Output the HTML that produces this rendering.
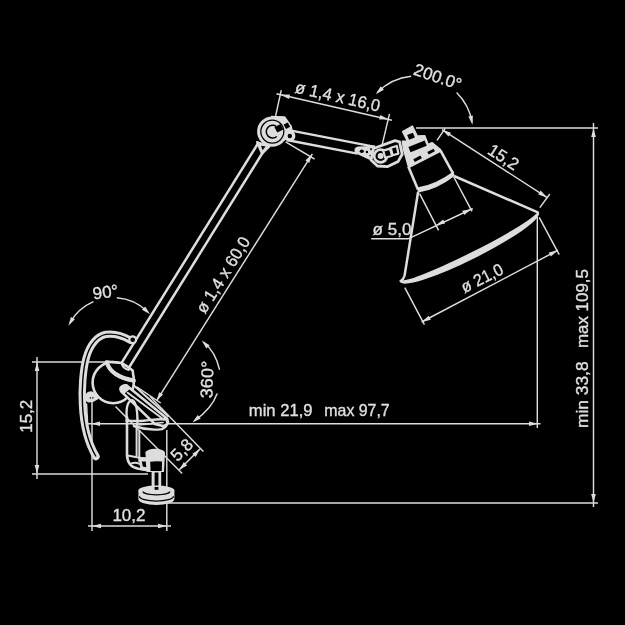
<!DOCTYPE html>
<html><head><meta charset="utf-8">
<style>
html,body{margin:0;padding:0;background:#000;width:625px;height:625px;overflow:hidden}
svg{display:block;opacity:0.999;will-change:transform}
text{font-family:"Liberation Sans",sans-serif;fill:#e0e0e0;stroke:#e0e0e0;stroke-width:0.35px}
</style></head><body>
<svg width="625" height="625" viewBox="0 0 625 625">
<rect width="625" height="625" fill="#000"/>
<line x1="593.50" y1="123.00" x2="593.50" y2="507.00" stroke="#dedede" stroke-width="1.45"/>
<path d="M593.50 128.00 L595.80 137.00 L591.20 137.00Z" fill="#dedede"/>
<path d="M593.50 503.00 L591.20 494.00 L595.80 494.00Z" fill="#dedede"/>
<line x1="416.00" y1="128.00" x2="598.00" y2="128.00" stroke="#dedede" stroke-width="1.45"/>
<line x1="167.00" y1="503.00" x2="598.00" y2="503.00" stroke="#dedede" stroke-width="1.45"/>
<line x1="88.00" y1="423.80" x2="540.50" y2="423.80" stroke="#dedede" stroke-width="1.45"/>
<path d="M538.00 423.80 L529.00 426.10 L529.00 421.50Z" fill="#dedede"/>
<path d="M91.00 423.80 L100.00 421.50 L100.00 426.10Z" fill="#dedede"/>
<line x1="537.30" y1="217.00" x2="537.30" y2="428.00" stroke="#dedede" stroke-width="1.45"/>
<line x1="37.00" y1="357.00" x2="37.00" y2="479.00" stroke="#dedede" stroke-width="1.45"/>
<path d="M37.00 362.00 L39.30 371.00 L34.70 371.00Z" fill="#dedede"/>
<path d="M37.00 474.00 L34.70 465.00 L39.30 465.00Z" fill="#dedede"/>
<line x1="32.00" y1="362.00" x2="112.00" y2="362.00" stroke="#dedede" stroke-width="1.45"/>
<line x1="32.00" y1="474.00" x2="148.00" y2="474.00" stroke="#dedede" stroke-width="1.45"/>
<line x1="88.00" y1="526.00" x2="171.00" y2="526.00" stroke="#dedede" stroke-width="1.45"/>
<path d="M92.00 526.00 L101.00 523.70 L101.00 528.30Z" fill="#dedede"/>
<path d="M167.00 526.00 L158.00 528.30 L158.00 523.70Z" fill="#dedede"/>
<line x1="92.00" y1="398.00" x2="92.00" y2="531.00" stroke="#dedede" stroke-width="1.45"/>
<line x1="166.80" y1="430.00" x2="166.80" y2="531.00" stroke="#dedede" stroke-width="1.45"/>
<text x="0" y="0" transform="translate(248.80,415.80) rotate(0)" textLength="63.7" lengthAdjust="spacingAndGlyphs" font-size="17">min 21,9</text>
<text x="0" y="0" transform="translate(324.30,415.80) rotate(0)" textLength="65.4" lengthAdjust="spacingAndGlyphs" font-size="17">max 97,7</text>
<text x="0" y="0" transform="translate(587.70,428.00) rotate(-90)" textLength="66.6" lengthAdjust="spacingAndGlyphs" font-size="17">min 33,8</text>
<text x="0" y="0" transform="translate(587.70,348.00) rotate(-90)" textLength="78.9" lengthAdjust="spacingAndGlyphs" font-size="17">max 109,5</text>
<text x="0" y="0" transform="translate(32.20,432.80) rotate(-90)" font-size="17">15,2</text>
<text x="0" y="0" transform="translate(112.40,521.20) rotate(0)" font-size="17">10,2</text>
<line x1="265.84" y1="147.50" x2="127.78" y2="369.50" stroke="#dedede" stroke-width="2.5"/>
<line x1="257.97" y1="143.50" x2="121.58" y2="362.80" stroke="#dedede" stroke-width="2.5"/>
<line x1="288.66" y1="130.13" x2="375.05" y2="146.86" stroke="#dedede" stroke-width="2.5"/>
<line x1="286.76" y1="139.95" x2="357.44" y2="153.64" stroke="#dedede" stroke-width="2.5"/>
<circle cx="272.3" cy="131.6" r="15.2" fill="#dedede"/>
<path d="M271 115.8 L285 116.2 L291.8 126 L293.5 134 L284 141 L272 131.6Z" fill="#dedede"/>
<circle cx="272.3" cy="131.6" r="11.5" fill="none" stroke="#000" stroke-width="1.3"/>
<path d="M276.5 126.5 A6.4 6.4 0 1 0 276.8 136.5" fill="none" stroke="#000" stroke-width="1.5"/>
<path d="M274.5 127.3 l6 -3.2 l2.8 5.3 l-6 3.2z" fill="#000"/>
<path d="M283.6 124.6 l4.2 -2.2 l2.4 4.4 l-4.2 2.2z" fill="#000"/>
<circle cx="289.8" cy="136" r="5.6" fill="#dedede"/>
<circle cx="289.8" cy="136" r="2.2" fill="#000"/>
<path d="M257 142 L269.4 146.6 L262 153.8Z" fill="#dedede" stroke="#dedede" stroke-width="2" stroke-linejoin="round"/>
<path d="M261.2 145.8 L265.6 146.6 L262.4 150.2Z" fill="#000"/>
<path d="M358 146.4 Q353.6 147.5 354.6 151.6 Q355.5 154 358 154.4 L368.8 159.6 L375 161 L375 145.4 L365.6 146.2Z" fill="#dedede"/>
<ellipse cx="361.8" cy="151.3" rx="2.1" ry="1.7" fill="#000"/>
<circle cx="366.9" cy="152" r="1.2" fill="#000"/>
<path d="M369.8 148.2 L372.6 148.6 L371 151Z" fill="#000"/>
<path d="M369 155.2 L371.8 154.4 L371.2 157.4Z" fill="#000"/>
<path d="M373.5 148.5 L395 140.6 L399.5 141.8 L402.2 154.2 L398.2 161.4 L387.8 166.6 L377.4 166 L371 160Z" fill="#000" stroke="#dedede" stroke-width="2.8" stroke-linejoin="round"/>
<circle cx="380.6" cy="156" r="6.4" fill="#000" stroke="#dedede" stroke-width="2.6"/>
<circle cx="380.6" cy="156" r="3.0" fill="#dedede"/>
<path d="M383.2 150.6 L390 148.6 L392 155.8 L385.2 157.8Z" fill="#000" stroke="#dedede" stroke-width="2.2" stroke-linejoin="round"/>
<path d="M390.8 147.8 L396.8 146 L398.4 153.6 L392.6 155.2Z" fill="#000" stroke="#dedede" stroke-width="2.2" stroke-linejoin="round"/>
<path d="M402.6 131.6 L412.4 126.1 L417.2 135.9 L424.8 135.8 L428.2 144.5 L432 142.6 L440.2 149.3 L440.8 151.2 L408.6 167.6 L404.4 152.6 L403.4 149.5 L402.3 141.2 L407.4 141.2Z" fill="#dedede" stroke="#dedede" stroke-width="1.4" stroke-linejoin="round"/>
<path d="M407.15 134.95 L412.90 132.63 L414.85 137.45 L409.10 139.77Z" fill="#000"/>
<path d="M408.44 147.08 L424.66 140.53 L426.76 145.72 L410.54 152.27Z" fill="#000"/>
<path d="M413.32 159.27 L420.38 155.51 L421.88 158.33 L414.82 162.09Z" fill="#000"/>
<path d="M427.31 151.92 L433.49 148.64 L434.89 151.28 L428.71 154.56Z" fill="#000"/>
<line x1="408.40" y1="166.80" x2="418.20" y2="190.00" stroke="#dedede" stroke-width="2.6"/>
<line x1="440.40" y1="150.40" x2="453.00" y2="173.40" stroke="#dedede" stroke-width="2.6"/>
<path d="M417 187.6 Q436 184.5 453.6 171.2 L454.6 176 Q437 189.5 418.6 192.6Z" fill="#dedede"/>
<path d="M418 192.5 L404.6 275.5 Q403.5 279.5 400.8 281" stroke="#dedede" stroke-width="2.5" fill="none" stroke-linejoin="round" stroke-linecap="round"/>
<line x1="454.00" y1="176.00" x2="537.80" y2="212.40" stroke="#dedede" stroke-width="2.5"/>
<g transform="translate(469.3,246.7) rotate(-26.6)"><path d="M-76.6 0 A76.6 11.4 0 0 0 76.6 0 A76.6 7.2 0 0 1 -76.6 0Z" fill="#dedede" stroke="#dedede" stroke-width="2.4" stroke-linejoin="round"/></g>
<line x1="437.00" y1="140.40" x2="445.20" y2="128.40" stroke="#dedede" stroke-width="1.45"/>
<line x1="539.80" y1="207.60" x2="549.80" y2="194.00" stroke="#dedede" stroke-width="1.45"/>
<line x1="442.00" y1="129.60" x2="547.20" y2="197.60" stroke="#dedede" stroke-width="1.45"/>
<path d="M442.20 129.80 L451.01 132.74 L448.52 136.60Z" fill="#dedede"/>
<path d="M547.00 197.40 L538.19 194.44 L540.69 190.58Z" fill="#dedede"/>
<text x="0" y="0" transform="translate(486.40,152.90) rotate(32.7)" font-size="17">15,2</text>
<line x1="419.60" y1="193.60" x2="438.60" y2="230.40" stroke="#dedede" stroke-width="1.45"/>
<line x1="453.80" y1="177.00" x2="472.00" y2="211.40" stroke="#dedede" stroke-width="1.45"/>
<line x1="371.20" y1="238.80" x2="408.10" y2="238.80" stroke="#dedede" stroke-width="1.45"/>
<line x1="408.10" y1="238.80" x2="472.80" y2="208.50" stroke="#dedede" stroke-width="1.45"/>
<path d="M436.00 225.30 L443.20 219.43 L445.13 223.60Z" fill="#dedede"/>
<path d="M471.40 209.00 L464.22 214.89 L462.27 210.73Z" fill="#dedede"/>
<text x="0" y="0" transform="translate(372.60,235.30) rotate(0)" font-size="17">ø 5,0</text>
<line x1="404.80" y1="287.60" x2="424.40" y2="324.60" stroke="#dedede" stroke-width="1.45"/>
<line x1="539.20" y1="217.40" x2="559.20" y2="254.60" stroke="#dedede" stroke-width="1.45"/>
<line x1="421.60" y1="322.00" x2="558.00" y2="250.20" stroke="#dedede" stroke-width="1.45"/>
<path d="M421.80 321.90 L428.69 315.67 L430.84 319.74Z" fill="#dedede"/>
<path d="M557.80 250.30 L550.91 256.53 L548.76 252.46Z" fill="#dedede"/>
<text x="0" y="0" transform="translate(464.40,293.30) rotate(-26.5)" textLength="45" lengthAdjust="spacingAndGlyphs" font-size="17">ø 21,0</text>
<line x1="281.30" y1="90.20" x2="275.60" y2="115.80" stroke="#dedede" stroke-width="1.45"/>
<line x1="389.50" y1="113.90" x2="382.30" y2="144.10" stroke="#dedede" stroke-width="1.45"/>
<line x1="276.50" y1="93.80" x2="391.90" y2="120.20" stroke="#dedede" stroke-width="1.45"/>
<path d="M280.70 94.70 L289.99 94.47 L288.96 98.95Z" fill="#dedede"/>
<path d="M388.50 119.20 L379.21 119.46 L380.23 114.98Z" fill="#dedede"/>
<text x="0" y="0" transform="translate(294.30,92.50) rotate(12.8)" textLength="86.6" lengthAdjust="spacingAndGlyphs" font-size="17">ø 1,4 x 16,0</text>
<path d="M411.15 76.31 A56 56 0 0 0 377.40 92.40" fill="none" stroke="#dedede" stroke-width="1.45"/>
<path d="M375.71 94.17 L380.76 86.37 L383.88 89.75Z" fill="#dedede"/>
<path d="M456.60 92.40 A56 56 0 0 1 472.15 122.28" fill="none" stroke="#dedede" stroke-width="1.45"/>
<path d="M472.52 124.69 L468.36 116.38 L472.86 115.41Z" fill="#dedede"/>
<text x="0" y="0" transform="translate(412.60,74.30) rotate(19)" font-size="17">200.0°</text>
<path d="M130.2 340.2 C120 334, 112 333.6, 105.8 334.4 C98 335.8, 90 343.5, 86 358.6 C83 370, 81.5 390, 82.5 405 C83.5 425, 88 443, 96 456.5" fill="none" stroke="#dedede" stroke-width="7.4" stroke-linecap="round"/>
<path d="M130.2 340.2 C120 334, 112 333.6, 105.8 334.4 C98 335.8, 90 343.5, 86 358.6 C83 370, 81.5 390, 82.5 405 C83.5 425, 88 443, 96 456.5" fill="none" stroke="#000" stroke-width="1.4" stroke-linecap="butt"/>
<circle cx="132.7" cy="339.8" r="3.4" fill="#000" stroke="#dedede" stroke-width="2.2"/>
<line x1="86.50" y1="403.50" x2="87.70" y2="425.50" stroke="#dedede" stroke-width="1.5"/>
<circle cx="113.2" cy="382.6" r="20.6" fill="#000" stroke="#dedede" stroke-width="2.6"/>
<path d="M106.2 361.6 Q109.5 376.5 134.2 381.6 L132.6 370.4 Q127 366 121.4 363 L106.2 361.6Z" fill="#000" stroke="#dedede" stroke-width="2.6" stroke-linejoin="round"/>
<path d="M107 362.6 Q111 376.5 133.8 380.4" stroke="#dedede" stroke-width="4.0" fill="none" stroke-linejoin="round" stroke-linecap="round"/>
<path d="M121.6 362.6 Q122.5 368.6 128.6 369.8" stroke="#dedede" stroke-width="2.2" fill="none" stroke-linejoin="round" stroke-linecap="round"/>
<path d="M86 397 Q86.5 392.5 91 392.2 Q95 393 97.5 398.5 Q93.5 401.6 88.5 401.5 Q86 400.6 86 397Z" fill="#dedede" stroke="#dedede" stroke-width="2" stroke-linejoin="round"/>
<circle cx="90.4" cy="398" r="0.75" fill="#000"/>
<circle cx="92.8" cy="397.8" r="0.75" fill="#000"/>
<path d="M127 417 L127 455 Q127.5 467 138.5 468.7 L149 469.6" stroke="#dedede" stroke-width="2.6" fill="none" stroke-linejoin="round" stroke-linecap="round"/>
<line x1="136.60" y1="424.00" x2="136.60" y2="456.50" stroke="#dedede" stroke-width="2.0"/>
<line x1="139.30" y1="430.00" x2="139.30" y2="462.00" stroke="#dedede" stroke-width="2.0"/>
<path d="M127.5 455.5 L141 458" stroke="#dedede" stroke-width="1.8" fill="none" stroke-linejoin="round" stroke-linecap="round"/>
<path d="M131 463.5 Q138 461 143.5 467" stroke="#dedede" stroke-width="1.8" fill="none" stroke-linejoin="round" stroke-linecap="round"/>
<path d="M126.6 385.4 L167.2 418.7 Q170 425 163 426 L154.7 423.9 L121.4 391.6 Q118 386 126.6 385.4Z" stroke="#dedede" stroke-width="2.6" fill="#000" stroke-linejoin="round" stroke-linecap="round"/>
<path d="M120 389 Q121 383.5 127 384.5 L131 388 L124 394Z" fill="#dedede"/>
<path d="M127.7 392.7 L164 419.7" stroke="#dedede" stroke-width="2.0" fill="none" stroke-linejoin="round" stroke-linecap="round"/>
<path d="M133.9 385.4 L168 416" stroke="#dedede" stroke-width="2.0" fill="none" stroke-linejoin="round" stroke-linecap="round"/>
<path d="M126.6 421 L141.2 421 Q158 419 166 419 Q170 425 162 429.1 Q148 431 133.9 426" stroke="#dedede" stroke-width="2.4" fill="none" stroke-linejoin="round" stroke-linecap="round"/>
<path d="M138 425 Q150 424 163 422.5" stroke="#dedede" stroke-width="1.6" fill="none" stroke-linejoin="round" stroke-linecap="round"/>
<path d="M127 421 Q125 402 132 400.2 Q137.8 402 137.4 424" stroke="#dedede" stroke-width="2.4" fill="none" stroke-linejoin="round" stroke-linecap="round"/>
<path d="M145.4 452.8 L146.6 472 L164 472 L165 452.8Z" fill="#dedede"/>
<ellipse cx="155.2" cy="452.8" rx="9.8" ry="4" fill="#dedede"/>
<path d="M150.2 461.8 Q156 460.8 162 461.6 L161.8 471 L150.6 471Z" fill="#000"/>
<path d="M138.6 456.8 L146 457.2 L147.6 471.6 L140.5 470.2Z" fill="#dedede"/>
<path d="M141.8 461.4 L145.8 461.6 L146.2 467.2 L142.8 466.6Z" fill="#000"/>
<rect x="151.6" y="471" width="9.6" height="20" fill="#dedede"/>
<rect x="154.6" y="472.5" width="3.8" height="19" fill="#000"/>
<path d="M138.4 490.4 L138.4 499 A18 6 0 0 0 174.4 499 L174.4 490.4Z" fill="#dedede"/>
<ellipse cx="156.4" cy="490.4" rx="18" ry="4.8" fill="#dedede"/>
<path d="M143 491.6 A13.4 3.2 0 0 0 169.8 491.6" fill="none" stroke="#000" stroke-width="1.2"/>
<path d="M139.4 496.2 A17 5 0 0 0 173.4 496.2" fill="none" stroke="#000" stroke-width="1.3"/>
<rect x="151.6" y="487" width="9.6" height="2.4" fill="#dedede"/>
<rect x="154.6" y="487" width="3.8" height="2.8" fill="#000"/>
<line x1="285.60" y1="141.80" x2="314.60" y2="159.20" stroke="#dedede" stroke-width="1.45"/>
<line x1="136.70" y1="386.80" x2="160.80" y2="403.00" stroke="#dedede" stroke-width="1.45"/>
<line x1="312.40" y1="153.80" x2="156.50" y2="400.80" stroke="#dedede" stroke-width="1.45"/>
<path d="M312.20 154.10 L309.23 162.90 L305.37 160.40Z" fill="#dedede"/>
<path d="M156.40 401.00 L159.19 392.14 L163.10 394.56Z" fill="#dedede"/>
<text x="0" y="0" transform="translate(205.00,314.60) rotate(-58)" textLength="86.6" lengthAdjust="spacingAndGlyphs" font-size="17">ø 1,4 x 60,0</text>
<path d="M93.46 301.63 A49.4 49.4 0 0 0 70.22 322.30" fill="none" stroke="#dedede" stroke-width="1.45"/>
<path d="M68.38 325.81 L70.91 316.88 L74.89 319.19Z" fill="#dedede"/>
<path d="M116.79 297.75 A49.4 49.4 0 0 1 147.32 311.46" fill="none" stroke="#dedede" stroke-width="1.45"/>
<path d="M150.06 314.33 L141.97 309.76 L145.15 306.44Z" fill="#dedede"/>
<text x="0" y="0" transform="translate(93.60,299.60) rotate(-8)" font-size="17">90°</text>
<path d="M219.4 369.2 Q215.5 352 204 342.5" stroke="#dedede" stroke-width="1.45" fill="none" stroke-linejoin="round" stroke-linecap="round"/>
<path d="M201.80 340.40 L209.66 345.35 L206.32 348.52Z" fill="#dedede"/>
<path d="M217 394 Q212 408 195 420.5" stroke="#dedede" stroke-width="1.45" fill="none" stroke-linejoin="round" stroke-linecap="round"/>
<path d="M192.40 422.60 L197.69 414.96 L200.70 418.44Z" fill="#dedede"/>
<text x="0" y="0" transform="translate(212.20,398.50) rotate(-88)" textLength="37.5" lengthAdjust="spacingAndGlyphs" font-size="17">360°</text>
<line x1="115.50" y1="406.50" x2="182.20" y2="473.60" stroke="#dedede" stroke-width="1.45"/>
<line x1="150.00" y1="396.50" x2="203.40" y2="451.60" stroke="#dedede" stroke-width="1.45"/>
<line x1="179.00" y1="470.00" x2="200.20" y2="448.80" stroke="#dedede" stroke-width="1.45"/>
<path d="M179.00 470.00 L183.88 462.10 L187.08 465.41Z" fill="#dedede"/>
<path d="M200.20 448.80 L195.62 456.88 L192.30 453.69Z" fill="#dedede"/>
<text x="0" y="0" transform="translate(177.50,462.20) rotate(-45)" font-size="17">5,8</text>
</svg>
</body></html>
